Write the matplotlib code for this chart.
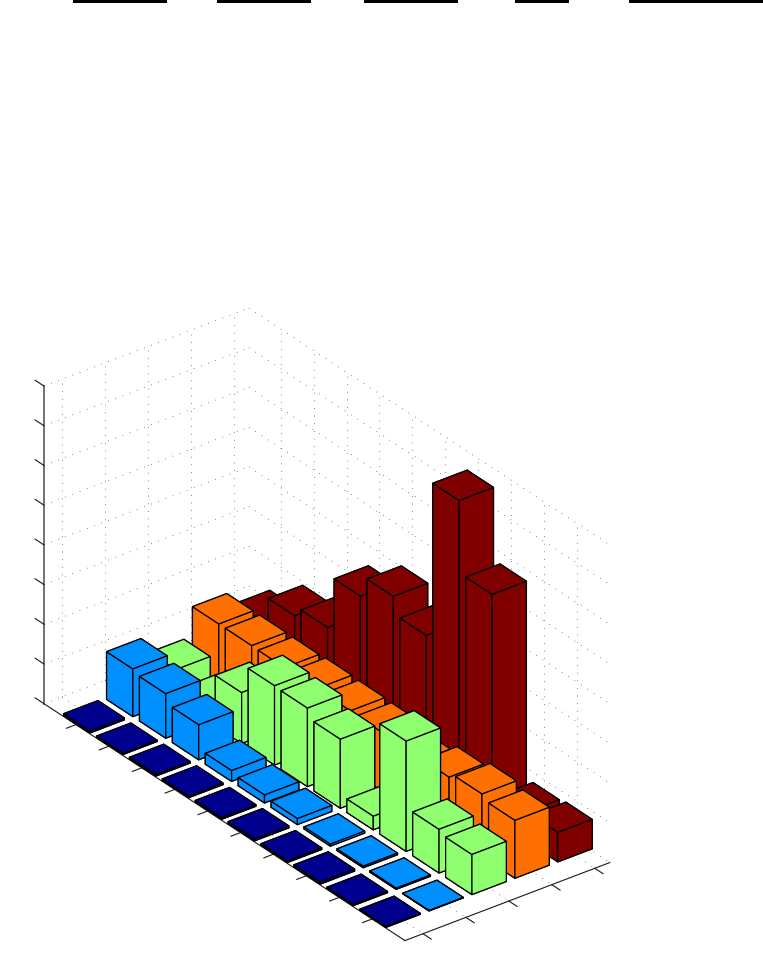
import numpy as np
import matplotlib
matplotlib.use("Agg")
import matplotlib.pyplot as plt
from matplotlib.patches import Rectangle
from mpl_toolkits.mplot3d import proj3d

# values, one list per row of bars
navy = [0.05, 0.03, 0.04, 0.04, 0.04, 0.05, 0.04, 0.05, 0.03, 0.02]
blue = [1.20, 1.12, 0.88, 0.27, 0.20, 0.15, 0.05, 0.04, 0.03, 0.01]
green = [0.77, 0.43, 1.28, 2.00, 1.98, 1.74, 0.34, 2.78, 1.10, 1.01]
orange = [1.51, 1.51, 1.50, 1.52, 1.50, 1.48, 1.29, 1.46, 1.58, 1.46]
red = [1.18, 1.85, 2.10, 3.43, 3.97, 3.53, 7.47, 5.65, 0.69, 0.74]

series = [navy, blue, green, orange, red]
colors = ["#00008f", "#008fff", "#8fff70", "#ff7000", "#800000"]
categories = [1, 2, 3, 4, 5, 6, 7, 8, 9, 10]
series_ticks = [1, 2, 3, 4, 5]
z_ticks = [0, 1, 2, 3, 4, 5, 6, 7, 8]

# clipped underlines along the top edge, pixels
top_lines = [(73, 167), (217, 311), (364, 458), (515, 569), (629, 763)]

W, H = 763, 964
x0, x1 = 0.58, 5.35
y0, y1 = 0.03, 11.0
z0, z1 = 0, 8
bar_w = 0.8

fig = plt.figure(figsize=(W / 100, H / 100), dpi=100)
ax = fig.add_axes([0, 0, 1, 1], projection="3d", proj_type="ortho", computed_zorder=False)
ax.view_init(elev=30, azim=-127.3)
ax.set_box_aspect((257.7, 596, 367))
ax.set_axis_off()

# far rows first, then far categories first, so the bars overlap properly
order = 10
for s in range(len(series) - 1, -1, -1):
    for k, val in enumerate(series[s]):
        ax.bar3d(s + 1 - bar_w / 2, categories[k] - bar_w / 2, 0, bar_w, bar_w, val,
                 color=colors[s], edgecolor="black", linewidth=0.9, shade=False, zorder=order)
        order += 1

ax.set_xlim(x0, x1, view_margin=0)
ax.set_ylim(y1, y0, view_margin=0)
ax.set_zlim(z0, z1, view_margin=0)

# dotted grid on the floor and the two back walls
grid = dict(color="0.1", linewidth=0.5, linestyle=(0, (1, 10)), zorder=1)
for t in series_ticks:
    ax.plot([t, t], [y0, y1], [0, 0], **grid)
    ax.plot([t, t], [y0, y0], [z0, z1], **grid)
for c in categories:
    ax.plot([x0, x1], [c, c], [0, 0], **grid)
    ax.plot([x1, x1], [c, c], [z0, z1], **grid)
for t in z_ticks:
    ax.plot([x0, x1], [y0, y0], [t, t], **grid)
    ax.plot([x1, x1], [y0, y1], [t, t], **grid)

# axis lines and tick marks
solid = dict(color="0.1", linewidth=0.8, zorder=2)
ax.plot([x0, x0], [y0, y1], [0, 0], **solid)
ax.plot([x0, x1], [y1, y1], [0, 0], **solid)
ax.plot([x0, x0], [y0, y0], [z0, z1], color="0.35", linewidth=1.2, zorder=2)
for c in categories:
    ax.plot([x0 - 0.22, x0], [c, c], [0, 0], **solid)
for t in series_ticks:
    ax.plot([t, t], [y1, y1 + 0.25], [0, 0], **solid)
for t in z_ticks:
    ax.plot([x0, x0], [y0 - 0.27, y0], [t, t], **solid)


def to_px(x, y, z):
    xs, ys, _ = proj3d.proj_transform(x, y, z, ax.get_proj())
    return ax.transData.transform((xs, ys))


def place(size, cx, cy):
    ax.set_position([cx - size / W / 2, cy - size / H / 2, size / W, size / H])
    ax.apply_aspect()


# fit the box so the front and left floor corners land where they do in the picture
size = 900
place(size, 0.5, 0.5)
left_px = np.array([44, H - 703.7])
front_px = np.array([405, H - 940.5])
a = to_px(x0, y0, 0)
b = to_px(x0, y1, 0)
size = size * np.linalg.norm(front_px - left_px) / np.linalg.norm(b - a)
place(size, 0.5, 0.5)
shift = left_px - to_px(x0, y0, 0)
place(size, 0.5 + shift[0] / W, 0.5 + shift[1] / H)

for start, end in top_lines:
    fig.add_artist(Rectangle((start / W, 1 - 3 / H), (end - start) / W, 3 / H,
                             transform=fig.transFigure, facecolor="black", edgecolor="none"))

fig.savefig("out.png", dpi=100, facecolor="white")
